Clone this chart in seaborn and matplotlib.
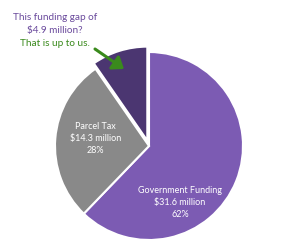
import matplotlib
matplotlib.use("Agg")
import matplotlib.pyplot as plt
import seaborn as sns

# Funding sources (millions of dollars)
sources = ["Government Funding", "Parcel Tax", "Funding Gap"]
amounts = [31.6, 14.3, 4.9]
shares = ["62%", "28%", ""]
colors = ["#7c5bb3", "#898989", "#4b3671"]

sns.set_theme(style="white")
plt.rcParams["font.family"] = ["Lato", "DejaVu Sans"]

fig = plt.figure(figsize=(3.0, 2.49), dpi=100)
# pie centre at ~ (149, 146) px, radius ~94 px
r_px = 94
span = 1.15
w = 2 * span * r_px
ax = fig.add_axes([(149 - span * r_px) / 300, (103 - span * r_px) / 249, w / 300, w / 249])

wedges, _ = ax.pie(
    amounts,
    colors=colors,
    startangle=90,
    counterclock=False,
    explode=[0, 0, 0.06],
    wedgeprops=dict(edgecolor="white", linewidth=1.5),
    radius=1,
)
ax.set_xlim(-span, span)
ax.set_ylim(-span, span)
ax.set_aspect("equal")
ax.axis("off")

# labels inside slices
ax.text(-0.57, 0.08, "Parcel Tax\n$14.3 million\n28%", ha="center", va="center",
        color="white", fontsize=6.5, linespacing=1.45)
ax.text(0.33, -0.6, "Government Funding\n$31.6 million\n62%", ha="center", va="center",
        color="white", fontsize=6.5, linespacing=1.45)

# callout text (figure coordinates)
purple = "#6a4a9c"
green = "#3a8a1c"
fig.text(55 / 300, 1 - 17 / 249, "This funding gap of", ha="center", va="center",
         color=purple, fontsize=7.2)
fig.text(55 / 300, 1 - 31 / 249, "$4.9 million?", ha="center", va="center",
         color=purple, fontsize=7.2)
fig.text(55 / 300, 1 - 44 / 249, "That is up to us.", ha="center", va="center",
         color=green, fontsize=7.2)

fig.patches.append(matplotlib.patches.FancyArrowPatch(
    (95 / 300, 1 - 49 / 249), (124 / 300, 1 - 69 / 249),
    transform=fig.transFigure, arrowstyle="-|>,head_length=4,head_width=3",
    color=green, linewidth=2.2, mutation_scale=1.6, shrinkA=0, shrinkB=0))

fig.savefig("out.png", dpi=100)
